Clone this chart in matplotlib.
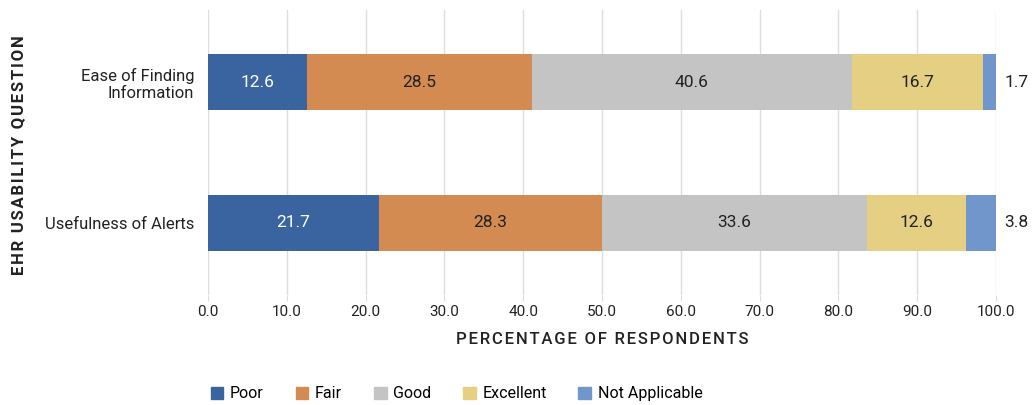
import matplotlib.pyplot as plt
from matplotlib.patches import Patch

plt.rcParams['font.family'] = ['Roboto', 'DejaVu Sans']

questions = ["Ease of Finding\nInformation", "Usefulness of Alerts"]
ratings = ["Poor", "Fair", "Good", "Excellent", "Not Applicable"]
poor = [12.6, 21.7]
fair = [28.5, 28.3]
good = [40.6, 33.6]
excellent = [16.7, 12.6]
not_applicable = [1.7, 3.8]
xticks = [0, 10, 20, 30, 40, 50, 60, 70, 80, 90, 100]

colors = ["#3A64A0", "#D38B52", "#C4C4C4", "#E5CF82", "#7196CB"]
text_colors = ["white", "#222222", "#222222", "#222222", "#222222"]


def spaced(s):
    # crude letter spacing with hair spaces
    return "\u200a".join(s)


fig = plt.figure(figsize=(10.33, 4.05), dpi=100)
ax = fig.add_axes([0.2014, 0.272, 0.7628, 0.703])

series = [poor, fair, good, excellent, not_applicable]
ypos = list(range(len(questions)))
left = [0.0] * len(questions)
for k, vals in enumerate(series):
    ax.barh(ypos, vals, left=left, height=0.4, color=colors[k], zorder=2)
    for i, v in enumerate(vals):
        if k == len(series) - 1:
            ax.text(left[i] + v + 1.0, ypos[i], f"{v:.1f}", va="center", ha="left",
                    fontsize=12.5, color="#222222")
        else:
            ax.text(left[i] + v / 2, ypos[i], f"{v:.1f}", va="center", ha="center",
                    fontsize=12.5, color=text_colors[k])
    left = [l + v for l, v in zip(left, vals)]

ax.set_xlim(0, 100)
ax.set_ylim(1.51, -0.51)
ax.set_yticks(ypos)
ax.set_yticklabels(questions, fontsize=12, color="#222222")
ax.set_xticks(xticks)
ax.set_xticklabels([f"{t:.1f}" for t in xticks], fontsize=11, color="#222222")
ax.tick_params(axis="y", length=0, pad=10)
ax.tick_params(axis="x", length=4, color="#dddddd", pad=3)
ax.grid(axis="x", color="#dddddd", linewidth=1, zorder=0)
for s in ax.spines.values():
    s.set_visible(False)

ax.set_xlabel(spaced("PERCENTAGE OF RESPONDENTS"), fontsize=12, fontweight="medium",
              color="#222222", labelpad=10)
fig.text(0.018, 0.617, spaced("EHR USABILITY QUESTION"), rotation=90, fontsize=12,
         fontweight="bold", color="#222222", va="center", ha="center")

handles = [Patch(color=c, label=r) for c, r in zip(colors, ratings)]
fig.legend(handles=handles, loc="center left", bbox_to_anchor=(0.19, 0.028),
           ncol=5, frameon=False, fontsize=11.5, handlelength=0.8, handleheight=0.8,
           handletextpad=0.4, columnspacing=2.0)

fig.savefig("out.png", dpi=100)
